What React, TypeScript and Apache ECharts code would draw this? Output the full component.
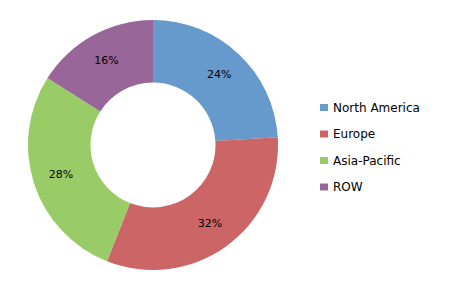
import React, { useEffect, useRef } from "react";
import * as echarts from "echarts";

const categories = ["North America", "Europe", "Asia-Pacific", "ROW"];
const values = [24, 32, 28, 16];
const colors = ["#6699cc", "#cc6666", "#99cc66", "#996699"];

export default function App() {
  const ref = useRef<HTMLDivElement>(null);
  useEffect(() => {
    if (!ref.current) return;
    const chart = echarts.init(ref.current, null, { renderer: "svg" });
    chart.setOption({
      animation: false,
      backgroundColor: "#ffffff",
      color: colors,
      legend: {
        orient: "vertical",
        left: 320,
        top: 100.5,
        padding: 0,
        itemWidth: 8,
        itemHeight: 7,
        itemGap: 12.5,
        icon: "rect",
        selectedMode: false,
        textStyle: {
          fontFamily: "DejaVu Sans",
          fontSize: 12,
          lineHeight: 14,
          color: "#000000",
        },
        data: categories,
      },
      series: [
        {
          type: "pie",
          center: [153, 145],
          radius: [62.5, 125],
          startAngle: 90,
          clockwise: true,
          silent: true,
          label: {
            show: true,
            position: "inside",
            formatter: "{c}%",
            fontFamily: "DejaVu Sans",
            fontSize: 11,
            color: "#000000",
          },
          labelLine: { show: false },
          itemStyle: { borderWidth: 0 },
          data: categories.map((name, i) => ({ name, value: values[i] })),
        },
      ],
    });
    return () => chart.dispose();
  }, []);
  return (
    <div
      ref={ref}
      style={{ position: "fixed", left: 0, top: 0, width: 454, height: 291 }}
    />
  );
}
